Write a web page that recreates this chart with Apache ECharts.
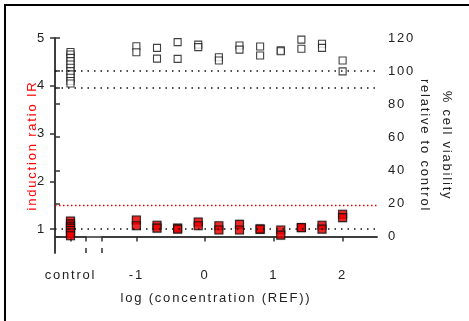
<!DOCTYPE html>
<html>
<head>
<meta charset="utf-8">
<script src="https://cdn.jsdelivr.net/npm/echarts@6/dist/echarts.min.js"></script>
<style>
  html, body { margin: 0; padding: 0; background: #fff; }
  #chart { width: 469px; height: 321px; }
</style>
</head>
<body>
<div id="chart"></div>
<script>
  // ===== 数据 =====
  const concLog = [-1, -0.7, -0.4, -0.1, 0.2, 0.5, 0.8, 1.1, 1.4, 1.7, 2.0];
  const viabA = [115, 114, 117.5, 116, 108.4, 115.5, 114.9, 112.5, 119, 116.5, 106.4];
  const viabB = [111.4, 107.5, 107.4, 114.5, 106.4, 113, 109.4, 112, 113.5, 114, 99.8];
  const irA = [1.19, 1.08, 1.02, 1.15, 1.07, 1.10, 1.0, 0.98, 1.035, 1.08, 1.31];
  const irB = [1.07, 1.02, 1.0, 1.07, 0.98, 0.98, 1.0, 0.875, 1.03, 1.0, 1.24];
  const controlViab = [111.5, 110, 108, 106, 104, 102, 100, 98, 96, 94, 92.5];
  const controlIR = [1.17, 1.11, 1.06, 1.02, 0.97, 0.92, 0.86];
  const leftTicks = [1, 2, 3, 4, 5];
  const rightTicks = [0, 20, 40, 60, 80, 90, 100, 120];
  const rightLabels = [0, 20, 40, 60, 80, 100, 120];
  const xTicks = [-1, 0, 1, 2];
  const refViab = [100, 90];
  const refIR = 1;
  const cutIR = 1.5;

  // 字间距 (canvas letterSpacing)
  const _fillText = CanvasRenderingContext2D.prototype.fillText;
  CanvasRenderingContext2D.prototype.fillText = function () {
    this.letterSpacing = "1.8px";
    return _fillText.apply(this, arguments);
  };

  const FONT = "'Liberation Sans', Arial, sans-serif";
  const INK = "#222";
  const lbl = { color: INK, fontFamily: FONT, fontSize: 13 };
  const tickLine = { color: "#333", width: 1.5 };
  const axLine = { show: true, lineStyle: tickLine };

  const pairs = (xs, ys) => xs.map((x, i) => [x, ys[i]]);
  const whiteSq = { color: "#fff", borderColor: "#111", borderWidth: 1.1 };
  const redSq = { color: "#ff0000", borderColor: "#111", borderWidth: 1.1,
                  shadowBlur: 1.5, shadowColor: "rgba(0,0,0,0.35)" };

  const chart = echarts.init(document.getElementById("chart"), null, { renderer: "canvas" });
  const hiddenY = (min, max, grid) => ({
    type: "value", gridIndex: grid, min, max, show: false, splitLine: { show: false }
  });

  chart.setOption({
    animation: false,
    graphic: [{
      type: "rect", shape: { x: 5, y: 5, width: 480, height: 340 },
      style: { fill: "none", stroke: "#000", lineWidth: 2 }, silent: true
    }],
    grid: [
      { left: 55, right: 383, top: 38, bottom: 68 },
      { left: 102, right: 92, top: 38, bottom: 68 },
      { left: 55, right: 92, top: 38, bottom: 68 },
    ],
    xAxis: [
      { type: "value", gridIndex: 0, min: -1, max: 1, position: "bottom",
        axisLine: axLine, splitLine: { show: false },
        axisTick: { customValues: [0, 1], length: 5, lineStyle: tickLine },
        axisLabel: { ...lbl, customValues: [0], formatter: () => "control", margin: 16 } },
      { type: "value", gridIndex: 0, min: -1, max: 1, position: "bottom",
        axisLine: { show: false }, splitLine: { show: false }, axisLabel: { show: false },
        axisTick: { inside: true, customValues: [1], length: 5, lineStyle: tickLine } },
      { type: "value", gridIndex: 1, min: -1.5, max: 2.5, position: "bottom",
        axisLine: axLine, splitLine: { show: false },
        axisTick: { customValues: [-1.5].concat(xTicks), length: 5, lineStyle: tickLine },
        axisLabel: { ...lbl, customValues: xTicks, formatter: v => String(v), margin: 16 } },
      { type: "value", gridIndex: 1, min: -1.5, max: 2.5, position: "bottom",
        axisLine: { show: false }, splitLine: { show: false }, axisLabel: { show: false },
        axisTick: { inside: true, customValues: [-1.5], length: 5, lineStyle: tickLine } },
      { type: "value", gridIndex: 2, min: 0, max: 1, position: "top",
        axisLine: axLine, axisTick: { show: false }, axisLabel: { show: false }, splitLine: { show: false } },
      { type: "value", gridIndex: 2, min: 0, max: 1, position: "bottom",
        axisLine: { show: false }, axisTick: { show: false }, axisLabel: { show: false }, splitLine: { show: false },
        name: "log (concentration (REF))", nameLocation: "middle", nameGap: 39, nameMoveOverlap: false,
        nameTextStyle: { ...lbl } },
    ],
    yAxis: [
      hiddenY(0.5, 5, 0), hiddenY(-10, 120, 0),
      hiddenY(0.5, 5, 1), hiddenY(-10, 120, 1),
      { type: "value", gridIndex: 2, min: 0.5, max: 5, position: "left",
        axisLine: axLine, splitLine: { show: false },
        axisTick: { show: true, customValues: leftTicks, length: 5, lineStyle: tickLine },
        axisLabel: { ...lbl, customValues: leftTicks, margin: 9 },
        name: "induction ratio IR", nameLocation: "middle", nameGap: 16, nameMoveOverlap: false,
        nameTextStyle: { ...lbl, color: "#ff0000" } },
      { type: "value", gridIndex: 2, min: -10, max: 120, position: "right",
        axisLine: axLine, splitLine: { show: false },
        axisTick: { show: true, customValues: rightTicks, length: 5, lineStyle: tickLine },
        axisLabel: { ...lbl, customValues: rightLabels, margin: 11 },
        name: "% cell viability\nrelative to control", nameLocation: "middle", nameGap: 37,
        nameMoveOverlap: false, nameRotate: -90, nameTextStyle: { ...lbl, lineHeight: 22 } },
    ],
    series: [
      { type: "scatter", xAxisIndex: 4, yAxisIndex: 4, data: [], silent: true,
        markLine: { silent: true, symbol: "none", label: { show: false },
          data: [
            { yAxis: refIR, lineStyle: { color: "#111", type: [1.5, 5], width: 1.5 } },
            { yAxis: cutIR, lineStyle: { color: "#ee0000", type: [1.5, 2.5], width: 1.3 } },
          ] } },
      { type: "scatter", xAxisIndex: 4, yAxisIndex: 5, data: [], silent: true,
        markLine: { silent: true, symbol: "none", label: { show: false },
          data: refViab.map(v => ({ yAxis: v, lineStyle: { color: "#111", type: [1.5, 5], width: 1.5 } })) } },
      { type: "scatter", xAxisIndex: 0, yAxisIndex: 1, symbol: "rect", symbolSize: 7,
        itemStyle: whiteSq, data: controlViab.map(v => [0, v]) },
      { type: "scatter", xAxisIndex: 0, yAxisIndex: 0, symbol: "rect", symbolSize: 8,
        itemStyle: redSq, data: controlIR.map(v => [0, v]) },
      { type: "scatter", xAxisIndex: 2, yAxisIndex: 3, symbol: "rect", symbolSize: 7,
        itemStyle: whiteSq, data: pairs(concLog, viabA).concat(pairs(concLog, viabB)) },
      { type: "scatter", xAxisIndex: 2, yAxisIndex: 2, symbol: "rect", symbolSize: 8,
        itemStyle: redSq, data: pairs(concLog, irA).concat(pairs(concLog, irB)) },
    ],
  });
</script>
</body>
</html>
